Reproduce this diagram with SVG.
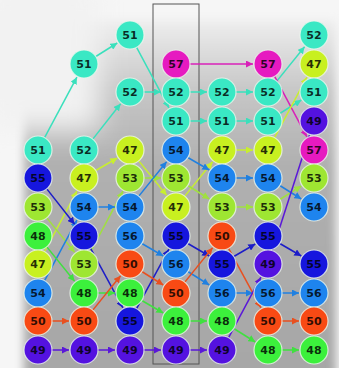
<svg xmlns="http://www.w3.org/2000/svg" width="339" height="368" viewBox="0 0 339 368">
<defs>
<filter id="blur" x="-30%" y="-30%" width="160%" height="160%"><feGaussianBlur stdDeviation="14"/></filter>
<filter id="blur2" x="-30%" y="-30%" width="160%" height="160%"><feGaussianBlur stdDeviation="5"/></filter>
<linearGradient id="bg" x1="0" y1="0" x2="0" y2="1">
<stop offset="0" stop-color="#eeeeee"/>
<stop offset="0.2" stop-color="#c6c6c6"/>
<stop offset="0.4" stop-color="#b0b0b0"/>
<stop offset="1" stop-color="#a6a6a6"/>
</linearGradient>
<marker id="m51" viewBox="0 0 6 6" refX="6" refY="3" markerWidth="7" markerHeight="7" markerUnits="userSpaceOnUse" orient="auto"><path d="M0,0L6,3L0,6z" fill="#3ae0bc"/></marker>
<marker id="m57" viewBox="0 0 6 6" refX="6" refY="3" markerWidth="7" markerHeight="7" markerUnits="userSpaceOnUse" orient="auto"><path d="M0,0L6,3L0,6z" fill="#d820b8"/></marker>
<marker id="m47" viewBox="0 0 6 6" refX="6" refY="3" markerWidth="7" markerHeight="7" markerUnits="userSpaceOnUse" orient="auto"><path d="M0,0L6,3L0,6z" fill="#c8ee30"/></marker>
<marker id="m53" viewBox="0 0 6 6" refX="6" refY="3" markerWidth="7" markerHeight="7" markerUnits="userSpaceOnUse" orient="auto"><path d="M0,0L6,3L0,6z" fill="#a0e040"/></marker>
<marker id="m54" viewBox="0 0 6 6" refX="6" refY="3" markerWidth="7" markerHeight="7" markerUnits="userSpaceOnUse" orient="auto"><path d="M0,0L6,3L0,6z" fill="#2080e0"/></marker>
<marker id="m55" viewBox="0 0 6 6" refX="6" refY="3" markerWidth="7" markerHeight="7" markerUnits="userSpaceOnUse" orient="auto"><path d="M0,0L6,3L0,6z" fill="#1c1cc8"/></marker>
<marker id="m48" viewBox="0 0 6 6" refX="6" refY="3" markerWidth="7" markerHeight="7" markerUnits="userSpaceOnUse" orient="auto"><path d="M0,0L6,3L0,6z" fill="#40e040"/></marker>
<marker id="m50" viewBox="0 0 6 6" refX="6" refY="3" markerWidth="7" markerHeight="7" markerUnits="userSpaceOnUse" orient="auto"><path d="M0,0L6,3L0,6z" fill="#e85020"/></marker>
<marker id="m49" viewBox="0 0 6 6" refX="6" refY="3" markerWidth="7" markerHeight="7" markerUnits="userSpaceOnUse" orient="auto"><path d="M0,0L6,3L0,6z" fill="#5a18d8"/></marker>
</defs>
<style>
.n circle{stroke:#eef8ee;stroke-width:1.2;stroke-opacity:0.8}
.n text{font-family:"DejaVu Sans",sans-serif;font-weight:bold;font-size:11px;text-anchor:middle;dominant-baseline:central;fill:#000;fill-opacity:0.82}
.v51 circle,.v52 circle{fill:#3ae8c4}
.v57 circle{fill:#e61ac0}
.v47 circle{fill:#c8f020}
.v53 circle{fill:#9ee632}
.v48 circle{fill:#3cf03c}
.v54 circle,.v56 circle{fill:#1e84ee}
.v55 circle{fill:#1616de}
.v49 circle{fill:#5412e0}
.v50 circle{fill:#f84a14}
#edges line{stroke-width:1.5;fill:none}
.e51{stroke:#3ae0bc;marker-end:url(#m51)}
.e57{stroke:#d820b8;marker-end:url(#m57)}
.e47{stroke:#c8ee30;marker-end:url(#m47)}
.e53{stroke:#a0e040;marker-end:url(#m53)}
.e54{stroke:#2080e0;marker-end:url(#m54)}
.e55{stroke:#1c1cc8;marker-end:url(#m55)}
.e48{stroke:#40e040;marker-end:url(#m48)}
.e50{stroke:#e85020;marker-end:url(#m50)}
.e49{stroke:#5a18d8;marker-end:url(#m49)}
</style>
<rect width="339" height="368" fill="#f6f6f6"/>
<rect x="24" y="20" width="312" height="360" fill="url(#bg)" filter="url(#blur2)"/>
<rect x="-20" y="-20" width="120" height="150" fill="#f2f2f2" filter="url(#blur)"/>
<rect x="153" y="4" width="46" height="360" fill="none" stroke="#555" stroke-width="1"/>
<g id="edges">
<line class="e51" x1="44.6" y1="137.7" x2="76.9" y2="77.2"/>
<line class="e51" x1="95.8" y1="56.5" x2="117.3" y2="43"/>
<line class="e51" x1="136.6" y1="47.3" x2="168.9" y2="107.8"/>
<line class="e51" x1="190" y1="121" x2="207" y2="121"/>
<line class="e51" x1="236" y1="121" x2="253" y2="121"/>
<line class="e51" x1="279.8" y1="113.5" x2="301.3" y2="100"/>
<line class="e51" x1="92.8" y1="139.1" x2="120.6" y2="103.7"/>
<line class="e51" x1="144" y1="92" x2="161" y2="92"/>
<line class="e51" x1="190" y1="92" x2="207" y2="92"/>
<line class="e51" x1="236" y1="92" x2="253" y2="92"/>
<line class="e51" x1="276.8" y1="81.1" x2="304.6" y2="46.7"/>
<line class="e57" x1="190" y1="64" x2="253" y2="64"/>
<line class="e57" x1="274.6" y1="76.3" x2="306.9" y2="136.8"/>
<line class="e47" x1="44.6" y1="251.7" x2="76.9" y2="191.2"/>
<line class="e47" x1="95.8" y1="170.5" x2="117.3" y2="158"/>
<line class="e47" x1="138.8" y1="160.9" x2="166.6" y2="195.3"/>
<line class="e47" x1="184.8" y1="196.1" x2="212.6" y2="161.7"/>
<line class="e47" x1="236" y1="150" x2="253" y2="150"/>
<line class="e47" x1="274.6" y1="137.7" x2="306.9" y2="77.2"/>
<line class="e53" x1="46.8" y1="217.9" x2="74.6" y2="252.3"/>
<line class="e53" x1="90.6" y1="251.7" x2="122.9" y2="191.2"/>
<line class="e53" x1="144" y1="178" x2="161" y2="178"/>
<line class="e53" x1="187.8" y1="185.5" x2="209.3" y2="199"/>
<line class="e53" x1="236" y1="207" x2="253" y2="207"/>
<line class="e53" x1="279.8" y1="199.5" x2="301.3" y2="186"/>
<line class="e54" x1="44.6" y1="280.7" x2="76.9" y2="220.2"/>
<line class="e54" x1="98" y1="207" x2="115" y2="207"/>
<line class="e54" x1="138.8" y1="196.1" x2="166.6" y2="161.7"/>
<line class="e54" x1="187.8" y1="157.5" x2="209.3" y2="170"/>
<line class="e54" x1="236" y1="178" x2="253" y2="178"/>
<line class="e54" x1="279.8" y1="185.5" x2="301.3" y2="199"/>
<line class="e54" x1="141.8" y1="243.5" x2="163.3" y2="256"/>
<line class="e54" x1="187.8" y1="271.5" x2="209.3" y2="285"/>
<line class="e54" x1="236" y1="293" x2="253" y2="293"/>
<line class="e54" x1="282" y1="293" x2="299" y2="293"/>
<line class="e55" x1="46.8" y1="188.9" x2="74.6" y2="224.3"/>
<line class="e55" x1="90.6" y1="248.3" x2="122.9" y2="307.8"/>
<line class="e55" x1="136.6" y1="308.7" x2="168.9" y2="249.2"/>
<line class="e55" x1="187.8" y1="243.5" x2="209.3" y2="256"/>
<line class="e55" x1="233.8" y1="256.5" x2="255.3" y2="244"/>
<line class="e55" x1="279.8" y1="243.5" x2="301.3" y2="256"/>
<line class="e48" x1="46.8" y1="246.9" x2="74.6" y2="281.3"/>
<line class="e48" x1="98" y1="293" x2="115" y2="293"/>
<line class="e48" x1="141.8" y1="300.5" x2="163.3" y2="313"/>
<line class="e48" x1="190" y1="321" x2="207" y2="321"/>
<line class="e48" x1="233.8" y1="328.5" x2="255.3" y2="342"/>
<line class="e48" x1="282" y1="350" x2="299" y2="350"/>
<line class="e50" x1="52" y1="321" x2="69" y2="321"/>
<line class="e50" x1="92.8" y1="310.1" x2="120.6" y2="275.7"/>
<line class="e50" x1="141.8" y1="271.5" x2="163.3" y2="285"/>
<line class="e50" x1="184.8" y1="282.1" x2="212.6" y2="247.7"/>
<line class="e50" x1="228.6" y1="248.3" x2="260.9" y2="307.8"/>
<line class="e50" x1="282" y1="321" x2="299" y2="321"/>
<line class="e49" x1="52" y1="350" x2="69" y2="350"/>
<line class="e49" x1="98" y1="350" x2="115" y2="350"/>
<line class="e49" x1="144" y1="350" x2="161" y2="350"/>
<line class="e49" x1="190" y1="350" x2="207" y2="350"/>
<line class="e49" x1="228.6" y1="337.7" x2="260.9" y2="277.2"/>
<line class="e49" x1="272.3" y1="250.7" x2="309.4" y2="135.3"/>
</g>
<g id="n0_51" class="n v51"><circle cx="38" cy="150" r="14"/><text x="38" y="150">51</text></g>
<g id="n0_55" class="n v55"><circle cx="38" cy="178" r="14"/><text x="38" y="178">55</text></g>
<g id="n0_53" class="n v53"><circle cx="38" cy="207" r="14"/><text x="38" y="207">53</text></g>
<g id="n0_48" class="n v48"><circle cx="38" cy="236" r="14"/><text x="38" y="236">48</text></g>
<g id="n0_47" class="n v47"><circle cx="38" cy="264" r="14"/><text x="38" y="264">47</text></g>
<g id="n0_54" class="n v54"><circle cx="38" cy="293" r="14"/><text x="38" y="293">54</text></g>
<g id="n0_50" class="n v50"><circle cx="38" cy="321" r="14"/><text x="38" y="321">50</text></g>
<g id="n0_49" class="n v49"><circle cx="38" cy="350" r="14"/><text x="38" y="350">49</text></g>
<g id="n1_51" class="n v51"><circle cx="84" cy="64" r="14"/><text x="84" y="64">51</text></g>
<g id="n1_52" class="n v52"><circle cx="84" cy="150" r="14"/><text x="84" y="150">52</text></g>
<g id="n1_47" class="n v47"><circle cx="84" cy="178" r="14"/><text x="84" y="178">47</text></g>
<g id="n1_54" class="n v54"><circle cx="84" cy="207" r="14"/><text x="84" y="207">54</text></g>
<g id="n1_55" class="n v55"><circle cx="84" cy="236" r="14"/><text x="84" y="236">55</text></g>
<g id="n1_53" class="n v53"><circle cx="84" cy="264" r="14"/><text x="84" y="264">53</text></g>
<g id="n1_48" class="n v48"><circle cx="84" cy="293" r="14"/><text x="84" y="293">48</text></g>
<g id="n1_50" class="n v50"><circle cx="84" cy="321" r="14"/><text x="84" y="321">50</text></g>
<g id="n1_49" class="n v49"><circle cx="84" cy="350" r="14"/><text x="84" y="350">49</text></g>
<g id="n2_51" class="n v51"><circle cx="130" cy="35" r="14"/><text x="130" y="35">51</text></g>
<g id="n2_52" class="n v52"><circle cx="130" cy="92" r="14"/><text x="130" y="92">52</text></g>
<g id="n2_47" class="n v47"><circle cx="130" cy="150" r="14"/><text x="130" y="150">47</text></g>
<g id="n2_53" class="n v53"><circle cx="130" cy="178" r="14"/><text x="130" y="178">53</text></g>
<g id="n2_54" class="n v54"><circle cx="130" cy="207" r="14"/><text x="130" y="207">54</text></g>
<g id="n2_56" class="n v56"><circle cx="130" cy="236" r="14"/><text x="130" y="236">56</text></g>
<g id="n2_50" class="n v50"><circle cx="130" cy="264" r="14"/><text x="130" y="264">50</text></g>
<g id="n2_48" class="n v48"><circle cx="130" cy="293" r="14"/><text x="130" y="293">48</text></g>
<g id="n2_55" class="n v55"><circle cx="130" cy="321" r="14"/><text x="130" y="321">55</text></g>
<g id="n2_49" class="n v49"><circle cx="130" cy="350" r="14"/><text x="130" y="350">49</text></g>
<g id="n3_57" class="n v57"><circle cx="176" cy="64" r="14"/><text x="176" y="64">57</text></g>
<g id="n3_52" class="n v52"><circle cx="176" cy="92" r="14"/><text x="176" y="92">52</text></g>
<g id="n3_51" class="n v51"><circle cx="176" cy="121" r="14"/><text x="176" y="121">51</text></g>
<g id="n3_54" class="n v54"><circle cx="176" cy="150" r="14"/><text x="176" y="150">54</text></g>
<g id="n3_53" class="n v53"><circle cx="176" cy="178" r="14"/><text x="176" y="178">53</text></g>
<g id="n3_47" class="n v47"><circle cx="176" cy="207" r="14"/><text x="176" y="207">47</text></g>
<g id="n3_55" class="n v55"><circle cx="176" cy="236" r="14"/><text x="176" y="236">55</text></g>
<g id="n3_56" class="n v56"><circle cx="176" cy="264" r="14"/><text x="176" y="264">56</text></g>
<g id="n3_50" class="n v50"><circle cx="176" cy="293" r="14"/><text x="176" y="293">50</text></g>
<g id="n3_48" class="n v48"><circle cx="176" cy="321" r="14"/><text x="176" y="321">48</text></g>
<g id="n3_49" class="n v49"><circle cx="176" cy="350" r="14"/><text x="176" y="350">49</text></g>
<g id="n4_52" class="n v52"><circle cx="222" cy="92" r="14"/><text x="222" y="92">52</text></g>
<g id="n4_51" class="n v51"><circle cx="222" cy="121" r="14"/><text x="222" y="121">51</text></g>
<g id="n4_47" class="n v47"><circle cx="222" cy="150" r="14"/><text x="222" y="150">47</text></g>
<g id="n4_54" class="n v54"><circle cx="222" cy="178" r="14"/><text x="222" y="178">54</text></g>
<g id="n4_53" class="n v53"><circle cx="222" cy="207" r="14"/><text x="222" y="207">53</text></g>
<g id="n4_50" class="n v50"><circle cx="222" cy="236" r="14"/><text x="222" y="236">50</text></g>
<g id="n4_55" class="n v55"><circle cx="222" cy="264" r="14"/><text x="222" y="264">55</text></g>
<g id="n4_56" class="n v56"><circle cx="222" cy="293" r="14"/><text x="222" y="293">56</text></g>
<g id="n4_48" class="n v48"><circle cx="222" cy="321" r="14"/><text x="222" y="321">48</text></g>
<g id="n4_49" class="n v49"><circle cx="222" cy="350" r="14"/><text x="222" y="350">49</text></g>
<g id="n5_57" class="n v57"><circle cx="268" cy="64" r="14"/><text x="268" y="64">57</text></g>
<g id="n5_52" class="n v52"><circle cx="268" cy="92" r="14"/><text x="268" y="92">52</text></g>
<g id="n5_51" class="n v51"><circle cx="268" cy="121" r="14"/><text x="268" y="121">51</text></g>
<g id="n5_47" class="n v47"><circle cx="268" cy="150" r="14"/><text x="268" y="150">47</text></g>
<g id="n5_54" class="n v54"><circle cx="268" cy="178" r="14"/><text x="268" y="178">54</text></g>
<g id="n5_53" class="n v53"><circle cx="268" cy="207" r="14"/><text x="268" y="207">53</text></g>
<g id="n5_55" class="n v55"><circle cx="268" cy="236" r="14"/><text x="268" y="236">55</text></g>
<g id="n5_49" class="n v49"><circle cx="268" cy="264" r="14"/><text x="268" y="264">49</text></g>
<g id="n5_56" class="n v56"><circle cx="268" cy="293" r="14"/><text x="268" y="293">56</text></g>
<g id="n5_50" class="n v50"><circle cx="268" cy="321" r="14"/><text x="268" y="321">50</text></g>
<g id="n5_48" class="n v48"><circle cx="268" cy="350" r="14"/><text x="268" y="350">48</text></g>
<g id="n6_52" class="n v52"><circle cx="314" cy="35" r="14"/><text x="314" y="35">52</text></g>
<g id="n6_47" class="n v47"><circle cx="314" cy="64" r="14"/><text x="314" y="64">47</text></g>
<g id="n6_51" class="n v51"><circle cx="314" cy="92" r="14"/><text x="314" y="92">51</text></g>
<g id="n6_49" class="n v49"><circle cx="314" cy="121" r="14"/><text x="314" y="121">49</text></g>
<g id="n6_57" class="n v57"><circle cx="314" cy="150" r="14"/><text x="314" y="150">57</text></g>
<g id="n6_53" class="n v53"><circle cx="314" cy="178" r="14"/><text x="314" y="178">53</text></g>
<g id="n6_54" class="n v54"><circle cx="314" cy="207" r="14"/><text x="314" y="207">54</text></g>
<g id="n6_55" class="n v55"><circle cx="314" cy="264" r="14"/><text x="314" y="264">55</text></g>
<g id="n6_56" class="n v56"><circle cx="314" cy="293" r="14"/><text x="314" y="293">56</text></g>
<g id="n6_50" class="n v50"><circle cx="314" cy="321" r="14"/><text x="314" y="321">50</text></g>
<g id="n6_48" class="n v48"><circle cx="314" cy="350" r="14"/><text x="314" y="350">48</text></g>
</svg>
